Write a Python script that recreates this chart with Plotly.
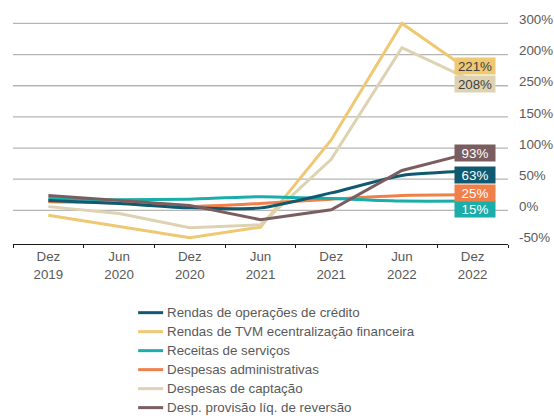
import plotly.graph_objects as go

# Periods (semesters)
periods = ["Dez<br>2019", "Jun<br>2020", "Dez<br>2020", "Jun<br>2021",
           "Dez<br>2021", "Jun<br>2022", "Dez<br>2022"]

# Accumulated variation (%) per line item
rendas_credito = [16, 11, 4, 4, 28, 56, 63]
rendas_tvm = [-8, -26, -44, -27, 113, 300, 221]
receitas_servicos = [19, 17, 18, 22, 19, 15, 15]
despesas_admin = [14, 12, 6, 11, 18, 24, 25]
despesas_captacao = [6, -5, -28, -23, 82, 261, 208]
desp_provisao = [24, 16, 8, -15, 1, 64, 93]

series_names = [
    "Rendas de operações de crédito",
    "Rendas de TVM ecentralização financeira",
    "Receitas de serviços",
    "Despesas administrativas",
    "Despesas de captação",
    "Desp. provisão líq. de reversão",
]
series_values = [rendas_credito, rendas_tvm, receitas_servicos,
                 despesas_admin, despesas_captacao, desp_provisao]
series_colors = ["#0f5a70", "#eec873", "#1aadaa", "#ef8049", "#ddd3b3", "#7b5d60"]
series_shapes = ["spline", "linear", "spline", "spline", "linear", "linear"]

# End-of-line value tags: text colour and vertical nudge (px) to avoid overlap
tag_font_colors = ["#ffffff", "#404040", "#ffffff", "#ffffff", "#404040", "#ffffff"]
tag_yshift = [-4, 7, -8, 2, -3, -1]

# Y axis ticks as printed on the chart
y_tickvals = [300, 250, 200, 150, 100, 50, 0, -50]
y_ticktext = ["300%", "200%", "250%", "150%", "100%", "50%", "0%", "-50%"]
grid_values = [0, 50, 100, 150, 200, 250, 300]

FONT = "Liberation Sans, Arial, sans-serif"
TEXT_GRAY = "#595959"

W, H = 554, 416
M_L, M_R, M_T, M_B = 12.7, 45.7, 11.2, 171.7
PLOT_W = W - M_L - M_R
PLOT_H = H - M_T - M_B


def px_to_paper_x(px):
    return (px - M_L) / PLOT_W


def px_to_paper_y(py):
    return (H - M_B - py) / PLOT_H


fig = go.Figure()

# Draw order: lighter lines first so darker ones sit on top
draw_order = [1, 4, 3, 2, 0, 5]
for i in draw_order:
    fig.add_trace(go.Scatter(
        x=periods, y=series_values[i], name=series_names[i],
        mode="lines",
        line=dict(color=series_colors[i], width=3, shape=series_shapes[i], smoothing=0.6),
        showlegend=False, hoverinfo="skip",
    ))

# Horizontal gridlines
for g in grid_values:
    fig.add_shape(type="line", xref="paper", x0=0, x1=1, yref="y", y0=g, y1=g,
                  line=dict(color="#b5b5b5", width=1.3), layer="below")

# Final-value tags
for i, vals in enumerate(series_values):
    fig.add_annotation(
        x=periods[-1], y=vals[-1], text=f"{vals[-1]}%",
        showarrow=False, bgcolor=series_colors[i],
        font=dict(family=FONT, size=13.33, color=tag_font_colors[i]),
        width=38, height=14, borderpad=1, xshift=2, yshift=tag_yshift[i],
    )

# Legend below the chart: a short line swatch and the series name per row
LEG_LINE_X0, LEG_LINE_X1, LEG_TEXT_X = 138, 163, 165
LEG_ROW0, LEG_ROW_STEP = 313, 19
for i, name in enumerate(series_names):
    row_y = LEG_ROW0 + i * LEG_ROW_STEP
    fig.add_shape(type="line", xref="paper", yref="paper",
                  x0=px_to_paper_x(LEG_LINE_X0), x1=px_to_paper_x(LEG_LINE_X1),
                  y0=px_to_paper_y(row_y), y1=px_to_paper_y(row_y),
                  line=dict(color=series_colors[i], width=3))
    fig.add_annotation(xref="paper", yref="paper",
                       x=px_to_paper_x(LEG_TEXT_X), y=px_to_paper_y(row_y),
                       xanchor="left", yanchor="middle", showarrow=False,
                       text=name,
                       font=dict(family=FONT, size=13.33, color=TEXT_GRAY))

fig.update_layout(
    width=W, height=H,
    margin=dict(l=M_L, r=M_R, t=M_T, b=M_B, autoexpand=False),
    paper_bgcolor="white", plot_bgcolor="white",
    font=dict(family=FONT, size=13.33, color=TEXT_GRAY),
    showlegend=False,
    xaxis=dict(
        type="category", categoryorder="array", categoryarray=periods,
        range=[-0.5, 6.5], showgrid=False, zeroline=False,
        showline=True, linecolor="#1a1a1a", linewidth=1.4,
        ticks="outside", tickson="boundaries", ticklen=3,
        tickcolor="#1a1a1a", tickwidth=1.2, tickangle=0,
        tickfont=dict(family=FONT, size=13.33, color=TEXT_GRAY),
    ),
    yaxis=dict(
        side="right", range=[-54, 320],
        tickmode="array", tickvals=y_tickvals, ticktext=y_ticktext,
        showgrid=False, zeroline=False, showline=False, ticks="",
        ticklabelstandoff=10, ticklabelshift=-4,
        tickfont=dict(family=FONT, size=13.33, color=TEXT_GRAY),
    ),
)

fig.write_html("out.html")
